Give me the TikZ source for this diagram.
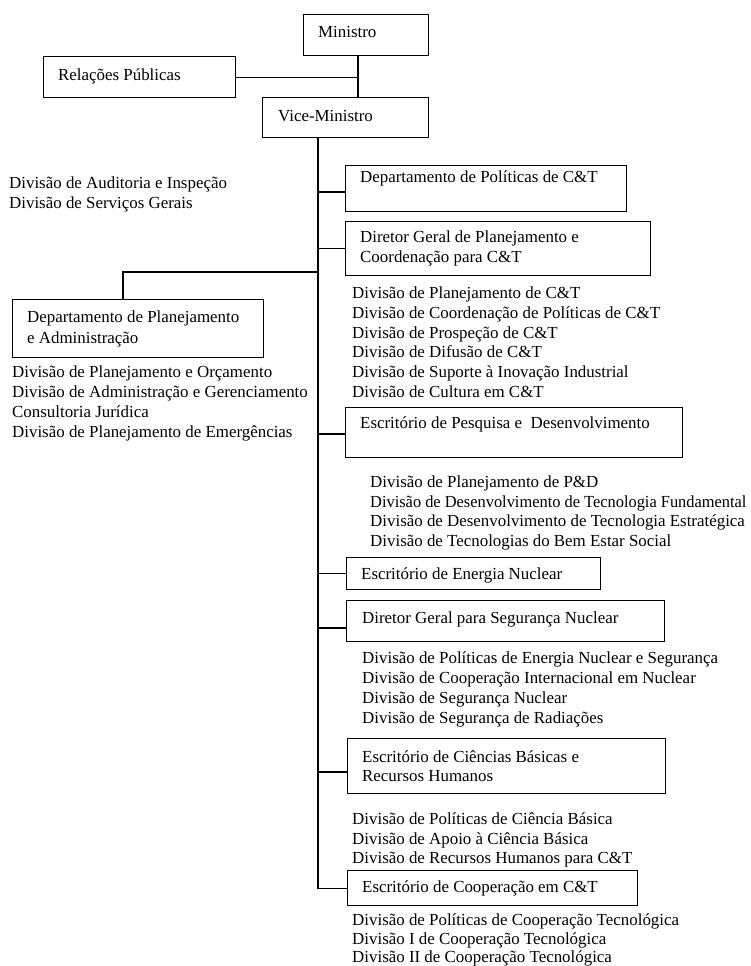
\documentclass[tikz,border=0pt]{standalone}
\usepackage{fontspec}
\setmainfont{Liberation Serif}
\begin{document}
\begin{tikzpicture}[x=1bp,y=-1bp,
  box/.style={draw,line width=1.2bp,inner sep=0pt},
  lbl/.style={anchor=base west,inner sep=0pt,font=\fontsize{16.9bp}{19.8bp}\selectfont},
  conn/.style={line width=1.2bp}]
\useasboundingbox (0,0) rectangle (751,966);
% boxes
\node[box,minimum width=125bp,minimum height=41bp,anchor=north west] (mi) at (303,14) {};
\node[box,minimum width=192bp,minimum height=41bp,anchor=north west] (rp) at (43,56) {};
\node[box,minimum width=166bp,minimum height=40bp,anchor=north west] (vm) at (262,97) {};
\node[box,minimum width=281bp,minimum height=46bp,anchor=north west] (dp) at (345,165) {};
\node[box,minimum width=305bp,minimum height=54bp,anchor=north west] (dg) at (345,221) {};
\node[box,minimum width=337bp,minimum height=50bp,anchor=north west] (ep) at (345,407) {};
\node[box,minimum width=254bp,minimum height=32bp,anchor=north west] (en) at (346,557) {};
\node[box,minimum width=318bp,minimum height=41bp,anchor=north west] (sn) at (346,600) {};
\node[box,minimum width=318bp,minimum height=55bp,anchor=north west] (cb) at (347,738) {};
\node[box,minimum width=290bp,minimum height=35bp,anchor=north west] (co) at (347,870) {};
\node[box,minimum width=251bp,minimum height=58bp,anchor=north west] (pa) at (12,299) {};
% box texts
\node[lbl] (tmi) at (318,37) {Ministro};
\node[lbl] (trp) at (58,80) {Relações Públicas};
\node[lbl] (tvm) at (278,121) {Vice-Ministro};
\node[lbl] (tdp) at (360,182) {Departamento de Políticas de C\&T};
\node[lbl] (tdg1) at (360,242) {Diretor Geral de Planejamento e};
\node[lbl] (tdg2) at (360,262) {Coordenação para C\&T};
\node[lbl] (tep) at (360,428) {Escritório de Pesquisa e\ \ Desenvolvimento};
\node[lbl] (ten) at (361,579) {Escritório de Energia Nuclear};
\node[lbl] (tsn) at (362,623) {Diretor Geral para Segurança Nuclear};
\node[lbl] (tcb1) at (362,762) {Escritório de Ciências Básicas e};
\node[lbl] (tcb2) at (362,781) {Recursos Humanos};
\node[lbl] (tco) at (362,892) {Escritório de Cooperação em C\&T};
\node[lbl] (tpa1) at (27,322) {Departamento de Planejamento};
\node[lbl] (tpa2) at (27,343) {e Administração};
% free texts
\node[lbl] (a1) at (9,188) {Divisão de Auditoria e Inspeção};
\node[lbl] (a2) at (9,208) {Divisão de Serviços Gerais};
\node[lbl] (b1) at (352,298) {Divisão de Planejamento de C\&T};
\node[lbl] (b2) at (352,318) {Divisão de Coordenação de Políticas de C\&T};
\node[lbl] (b3) at (352,338) {Divisão de Prospeção de C\&T};
\node[lbl] (b4) at (352,357) {Divisão de Difusão de C\&T};
\node[lbl] (b5) at (352,377) {Divisão de Suporte à Inovação Industrial};
\node[lbl] (b6) at (352,397) {Divisão de Cultura em C\&T};
\node[lbl] (c1) at (370,487) {Divisão de Planejamento de P\&D};
\node[lbl] (c2) at (370,507) {\scalebox{0.97}[1]{Divisão de Desenvolvimento de Tecnologia Fundamental}};
\node[lbl] (c3) at (370,526) {Divisão de Desenvolvimento de Tecnologia Estratégica};
\node[lbl] (c4) at (370,546) {Divisão de Tecnologias do Bem Estar Social};
\node[lbl] (d1) at (362,663) {Divisão de Políticas de Energia Nuclear e Segurança};
\node[lbl] (d2) at (362,683) {Divisão de Cooperação Internacional em Nuclear};
\node[lbl] (d3) at (362,703) {Divisão de Segurança Nuclear};
\node[lbl] (d4) at (362,723) {Divisão de Segurança de Radiações};
\node[lbl] (e1) at (352,824) {Divisão de Políticas de Ciência Básica};
\node[lbl] (e2) at (352,844) {Divisão de Apoio à Ciência Básica};
\node[lbl] (e3) at (352,863) {Divisão de Recursos Humanos para C\&T};
\node[lbl] (f1) at (352,925) {Divisão de Políticas de Cooperação Tecnológica};
\node[lbl] (f2) at (352,944) {Divisão I de Cooperação Tecnológica};
\node[lbl] (f3) at (352,962) {Divisão II de Cooperação Tecnológica};
\node[lbl] (g1) at (12,377) {Divisão de Planejamento e Orçamento};
\node[lbl] (g2) at (12,397) {Divisão de Administração e Gerenciamento};
\node[lbl] (g3) at (12,417) {Consultoria Jurídica};
\node[lbl] (g4) at (12,437) {Divisão de Planejamento de Emergências};
% connectors
\coordinate (mx) at (358,55);
\coordinate (t0) at (318,137);
\coordinate (lb) at (123,272);
\draw[conn] (mx) -- (mx |- vm.north);
\draw[conn] (rp.east) -- (rp.east -| mx);
\draw[conn] (t0) -- (t0 |- co.west) -- (co.west);
\draw[conn] (t0 |- 0,192) -- (dp.west |- 0,192);
\draw[conn] (t0 |- dg.west) -- (dg.west);
\draw[conn] (t0 |- 0,434) -- (ep.west |- 0,434);
\draw[conn] (t0 |- en.west) -- (en.west);
\draw[conn] (t0 |- 0,628) -- (sn.west |- 0,628);
\draw[conn] (t0 |- 0,772) -- (cb.west |- 0,772);
\draw[conn] (t0 |- lb) -- (lb) -- (lb |- pa.north);
\end{tikzpicture}
\end{document}
